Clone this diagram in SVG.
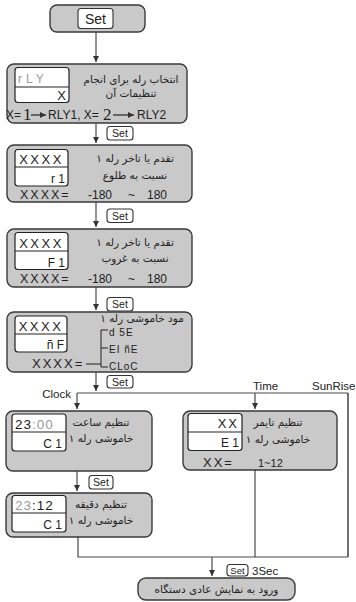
<svg xmlns="http://www.w3.org/2000/svg" width="356" height="602" viewBox="0 0 356 602">
<style>
.box{fill:#c9c9c9;stroke:#3a3a3a;stroke-width:1.4}
.disp{fill:#fff;stroke:#222;stroke-width:1.2}
.div{stroke:#222;stroke-width:1.2}
.btn{fill:#fff;stroke:#333;stroke-width:1.1}
.con{fill:none;stroke:#4a4a4a;stroke-width:1.2}
.lat{font-family:"Liberation Sans",Arial,sans-serif;fill:#222}
.fa{font-family:"DejaVu Sans","Noto Sans",sans-serif;font-size:10.5px;fill:#222;text-anchor:middle}
.seg{font-family:"Liberation Sans",Arial,sans-serif;fill:#222;font-size:12px}
.gray{fill:#9a9a9a}
.set{font-family:"Liberation Sans",Arial,sans-serif;font-size:10.5px;fill:#222;text-anchor:middle}
</style>
<defs>
<marker id="ah" markerUnits="userSpaceOnUse" markerWidth="7" markerHeight="7" refX="6" refY="3" orient="auto">
<path d="M0,0 L6,3 L0,6 z" fill="#333"/>
</marker>
</defs>
<g id="connectors">
<path class="con" d="M96,32 V62" marker-end="url(#ah)"/>
<path class="con" d="M96,123 V143" marker-end="url(#ah)"/>
<path class="con" d="M96,202 V227" marker-end="url(#ah)"/>
<path class="con" d="M96,287 V310" marker-end="url(#ah)"/>
<path class="con" d="M96,372 V391" marker-end="url(#ah)"/>
<path class="con" d="M77,393 H348"/>
<path class="con" d="M77,393 V409" marker-end="url(#ah)"/>
<path class="con" d="M255,393 V409" marker-end="url(#ah)"/>
<path class="con" d="M348,393 V557" style="stroke:#111"/>
<path class="con" d="M77,471 V491" marker-end="url(#ah)"/>
<path class="con" d="M255,470 V557"/>
<path class="con" d="M78,537 V557 H348"/>
<path class="con" d="M212,557 V576" marker-end="url(#ah)"/>
</g>
<g id="start">
<rect class="box" x="50" y="5" width="95" height="27" rx="7"/>
<rect class="btn" x="78" y="8.5" width="35" height="20" rx="3"/>
<text class="set" x="95.5" y="24" style="font-size:14px">Set</text>
</g>
<g id="relay-select">
<rect class="box" x="7" y="64" width="180" height="59" rx="7"/>
<rect class="disp" x="15" y="67.5" width="54" height="35" rx="3"/>
<line class="div" x1="15" y1="87" x2="69" y2="87"/>
<text class="seg gray" x="18" y="83" style="letter-spacing:4px">rLY</text>
<text class="seg" x="66" y="100" text-anchor="end" style="font-size:13px">X</text>
<text class="fa" x="131" y="83">انتخاب رله برای انجام</text>
<text class="fa" x="131" y="97">تنظیمات آن</text>
<text class="lat" x="6" y="119" style="font-size:12px">X=</text>
<text x="23" y="120" style="font-family:'Liberation Serif',serif;font-size:17px;fill:#222">1</text>
<line x1="31" y1="115" x2="46" y2="115" stroke="#222" stroke-width="1.2" marker-end="url(#ah)"/>
<text class="lat" x="48" y="119" style="font-size:12px">RLY1, X=</text>
<text x="103" y="120" style="font-family:'Liberation Serif',serif;font-size:17px;fill:#222">2</text>
<line x1="113" y1="115" x2="134" y2="115" stroke="#222" stroke-width="1.2" marker-end="url(#ah)"/>
<text class="lat" x="137" y="119" style="font-size:12px">RLY2</text>
</g>
<g id="set1">
<rect class="btn" x="107" y="126.5" width="26" height="13.5" rx="3"/>
<text class="set" x="120" y="137">Set</text>
</g>
<g id="sunrise-offset">
<rect class="box" x="7" y="145" width="185" height="57" rx="7"/>
<rect class="disp" x="15" y="149.5" width="53" height="36.5" rx="3"/>
<line class="div" x1="15" y1="167" x2="68" y2="167"/>
<text class="seg" x="41.5" y="164" text-anchor="middle" style="font-size:13px;letter-spacing:2.5px">XXXX</text>
<text class="seg" x="65" y="183" text-anchor="end">r 1</text>
<text class="fa" x="135" y="162">تقدم یا تاخر رله ۱</text>
<text class="fa" x="135" y="179">نسبت به طلوع</text>
<text class="seg" x="20" y="199" style="font-size:12.5px;letter-spacing:2px">XXXX=</text>
<text class="seg" x="88" y="199">-180</text>
<text class="seg" x="128" y="199">~</text>
<text class="seg" x="147" y="199">180</text>
</g>
<g id="set2">
<rect class="btn" x="107" y="209" width="26" height="13.5" rx="3"/>
<text class="set" x="120" y="219.5">Set</text>
</g>
<g id="sunset-offset">
<rect class="box" x="7" y="229" width="185" height="58" rx="7"/>
<rect class="disp" x="15" y="232.5" width="53" height="37" rx="3"/>
<line class="div" x1="15" y1="251" x2="68" y2="251"/>
<text class="seg" x="41.5" y="248" text-anchor="middle" style="font-size:13px;letter-spacing:2.5px">XXXX</text>
<text class="seg" x="65" y="267" text-anchor="end">F 1</text>
<text class="fa" x="135" y="246">تقدم یا تاخر رله ۱</text>
<text class="fa" x="135" y="262">نسبت به غروب</text>
<text class="seg" x="20" y="283" style="font-size:12.5px;letter-spacing:2px">XXXX=</text>
<text class="seg" x="88" y="283">-180</text>
<text class="seg" x="128" y="283">~</text>
<text class="seg" x="147" y="283">180</text>
</g>
<g id="set3">
<rect class="btn" x="107" y="297.5" width="26" height="13.5" rx="3"/>
<text class="set" x="120" y="308">Set</text>
</g>
<g id="off-mode">
<rect class="box" x="7" y="312" width="185" height="60" rx="7"/>
<rect class="disp" x="15" y="316" width="52" height="36" rx="3"/>
<line class="div" x1="15" y1="334" x2="67" y2="334"/>
<text class="seg" x="41" y="331" text-anchor="middle" style="font-size:13px;letter-spacing:2.5px">XXXX</text>
<text class="seg" x="64" y="349" text-anchor="end">ñ F</text>
<text class="fa" x="142" y="322">مود خاموشی رله ۱</text>
<text class="seg" x="32" y="368" style="font-size:13px;letter-spacing:2px">XXXX=</text>
<path d="M86,364 H101 M101,330 V367 M101,330 H108 M101,348 H108 M101,367 H108" fill="none" stroke="#222" stroke-width="1"/>
<text class="seg" x="109" y="336" style="font-size:10px;letter-spacing:1px">d 5E</text>
<text class="seg" x="109" y="353" style="font-size:10px;letter-spacing:1px">EI ñE</text>
<text class="seg" x="109" y="370" style="font-size:10px;letter-spacing:1px">CLoC</text>
</g>
<g id="set4">
<rect class="btn" x="107" y="375.5" width="26" height="12.5" rx="3"/>
<text class="set" x="120" y="385.5">Set</text>
</g>
<g id="labels">
<text class="lat" x="71" y="398" text-anchor="end" style="font-size:11.5px">Clock</text>
<text class="lat" x="253" y="390" style="font-size:11.5px">Time</text>
<text class="lat" x="312" y="390" style="font-size:11.5px">SunRise</text>
</g>
<g id="clock-hour">
<rect class="box" x="6" y="411" width="146" height="60" rx="7"/>
<rect class="disp" x="12" y="414" width="54" height="37" rx="3"/>
<line class="div" x1="12" y1="432" x2="66" y2="432"/>
<text class="seg" x="15" y="429" style="font-size:13.5px;letter-spacing:1px">23<tspan class="gray">:00</tspan></text>
<text class="seg" x="62" y="448" text-anchor="end">C 1</text>
<text class="fa" x="101" y="426">تنظیم ساعت</text>
<text class="fa" x="101" y="442">خاموشی رله ۱</text>
</g>
<g id="set5">
<rect class="btn" x="89" y="475.5" width="24" height="13.5" rx="3"/>
<text class="set" x="101" y="486">Set</text>
</g>
<g id="clock-minute">
<rect class="box" x="6" y="493" width="146" height="44" rx="7"/>
<rect class="disp" x="12" y="495.5" width="54" height="36.5" rx="3"/>
<line class="div" x1="12" y1="513" x2="66" y2="513"/>
<text class="seg" x="15" y="510" style="font-size:13.5px;letter-spacing:1px"><tspan class="gray">23</tspan>:12</text>
<text class="seg" x="62" y="529" text-anchor="end">C 1</text>
<text class="fa" x="101" y="508">تنظیم دقیقه</text>
<text class="fa" x="101" y="524">خاموشی رله ۱</text>
</g>
<g id="timer">
<rect class="box" x="183" y="411" width="154" height="59" rx="7"/>
<rect class="disp" x="188" y="413.5" width="54" height="37" rx="3"/>
<line class="div" x1="188" y1="432" x2="242" y2="432"/>
<text class="seg" x="239" y="428" text-anchor="end" style="font-size:13px;letter-spacing:2px">XX</text>
<text class="seg" x="239" y="447" text-anchor="end">E 1</text>
<text class="fa" x="278" y="426">تنظیم تایمر</text>
<text class="fa" x="278" y="443">خاموشی رله ۱</text>
<text class="seg" x="203" y="467" style="font-size:13px;letter-spacing:2px">XX=</text>
<text class="seg" x="258" y="467" style="font-size:11px">1~12</text>
</g>
<g id="set6">
<rect class="btn" x="227" y="564.5" width="21" height="11.5" rx="3"/>
<text class="set" x="237.5" y="574" style="font-size:9.5px">Set</text>
<text class="lat" x="252" y="575" style="font-size:11.5px">3Sec</text>
</g>
<g id="normal-display">
<rect class="box" x="138" y="578" width="157" height="22" rx="8"/>
<text class="fa" x="216.5" y="593">ورود به نمایش عادی دستگاه</text>
</g>
</svg>
